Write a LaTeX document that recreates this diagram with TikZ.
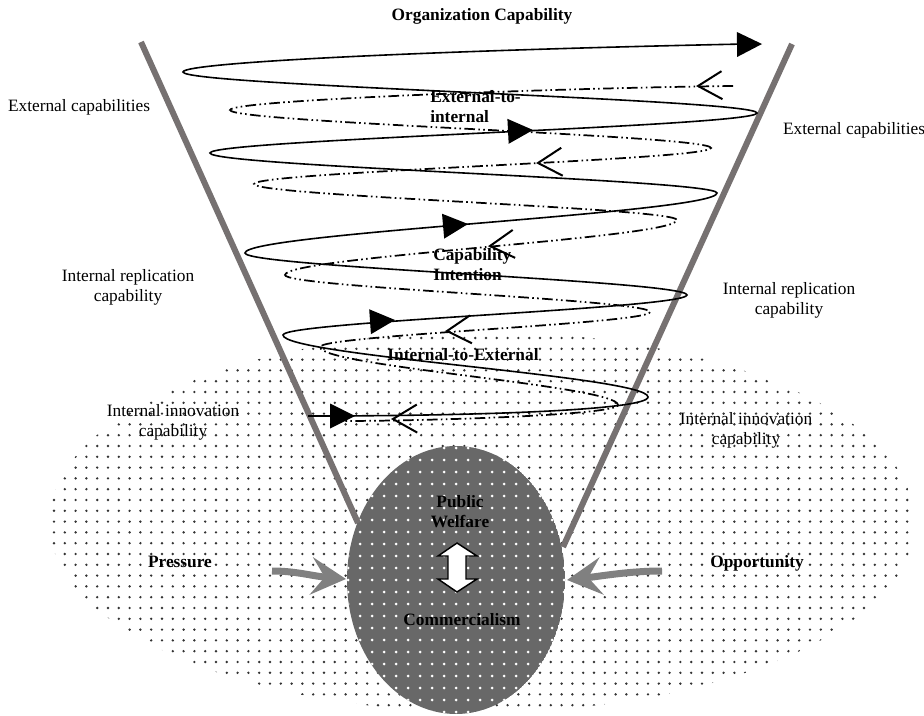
\documentclass[tikz,border=0pt]{standalone}
\usepackage{fontspec}
\setmainfont{Liberation Serif}
\usetikzlibrary{arrows.meta,patterns.meta}

\definecolor{wallgray}{RGB}{118,113,113}
\definecolor{pushgray}{RGB}{128,128,128}
\definecolor{coregray}{RGB}{104,104,104}

\tikzdeclarepattern{name=fielddots, type=uncolored,
  bounding box={(-1.2pt,-1.2pt) and (1.2pt,1.2pt)},
  tile size={(8.1pt,8.1pt)},
  code={\fill (0pt,0pt) circle (1pt);}}

\tikzset{
  wall/.style={draw=wallgray, line width=4.5pt},
  coil/.style={line width=1.2pt},
  backcoil/.style={line width=1.3pt, dash pattern={on 8pt off 2.5pt on 1.2pt off 2.5pt on 1.2pt off 2.5pt}},
  tipfill/.style={fill=black, draw opacity=0},
  tipopen/.style={line width=1.5pt},
  push/.style={draw=pushgray, line width=5.25pt, -{Stealth[length=26pt,width=28pt,inset=10pt]}},
  lbl/.style={inner sep=0pt, align=center, font=\fontsize{13}{15}\selectfont},
  blbl/.style={lbl, font=\fontsize{13}{15}\selectfont\bfseries},
}

\begin{document}
\begin{tikzpicture}[x=0.75pt,y=0.75pt,yscale=-1,xscale=1]
\useasboundingbox (0,0) rectangle (924,716);

%Shape: Ellipse [field]
\fill [pattern=fielddots, pattern color=black!80] (482,522) ellipse (433 and 190);
%Shape: Ellipse [core]
\begin{scope}
\clip (456,580) ellipse (109 and 134);
\fill [coregray] (456,580) ellipse (109 and 134);
\foreach \i in {0,...,19}
  \foreach \j in {0,...,23}
    \fill [white] (348+\i*12,448+\j*12) circle (1.5);
\end{scope}

%Straight Lines [walls]
\draw [wall] (141,42) -- (358,523);
\draw [wall] (792,44) -- (563,547);

%Curve Lines [pressure and opportunity]
\draw [push] (272,571) .. controls (296,571) and (312,576) .. (346,579);
\draw [push] (662,571) .. controls (630,571) and (602,576) .. (567,580);

%Shape: Up Down Arrow
\draw [fill=white, line width=1.1pt] (457,543) -- (477,556) -- (466,556) -- (466,579) -- (477,579) -- (457,592) -- (438,579) -- (448,579) -- (448,556) -- (438,556) -- cycle;

%Curve Lines [back coil]
\draw [backcoil] (733,86) .. controls (560,88) and (230,100) .. (230,110)
  .. controls (230,122.7) and (711,135.3) .. (711,148)
  .. controls (711,160) and (254,172) .. (254,184)
  .. controls (254,196) and (677,208) .. (677,220)
  .. controls (677,238.3) and (285,256.7) .. (285,275)
  .. controls (285,287.3) and (650,299.7) .. (650,312)
  .. controls (650,323.7) and (320,335.3) .. (320,347)
  .. controls (320,366.3) and (618,385.7) .. (618,405)
  .. controls (618,415) and (430,421) .. (340,421);
\draw [shift={(698,86)}, rotate=-2] [tipopen] (24,-14) -- (0,0) -- (24,14);
\draw [shift={(538,163)}, rotate=-3] [tipopen] (24,-14) -- (0,0) -- (24,14);
\draw [shift={(490,246)}, rotate=-5] [tipopen] (24,-14) -- (0,0) -- (24,14);
\draw [shift={(447,331)}, rotate=-4] [tipopen] (24,-14) -- (0,0) -- (24,14);
\draw [shift={(393,419)}, rotate=-1] [tipopen] (24,-14) -- (0,0) -- (24,14);

%Curve Lines [front coil]
\draw [coil] (308,416) .. controls (480,416) and (648,410) .. (648,397)
  .. controls (648,376.3) and (283,355.7) .. (283,335)
  .. controls (283,321.7) and (687,308.3) .. (687,295)
  .. controls (687,281) and (245,267) .. (245,253)
  .. controls (245,233) and (717,213) .. (717,193)
  .. controls (717,179.7) and (210,166.3) .. (210,153)
  .. controls (210,139.7) and (757,126.3) .. (757,113)
  .. controls (757,99.3) and (183,85.7) .. (183,72)
  .. controls (183,62) and (450,50) .. (745,44);
\draw [shift={(355,416)}, rotate=180] [tipfill] (25,-12.5) -- (0,0) -- (25,12.5) -- cycle;
\draw [shift={(395,320)}, rotate=176] [tipfill] (25,-12.5) -- (0,0) -- (25,12.5) -- cycle;
\draw [shift={(468,224)}, rotate=175] [tipfill] (25,-12.5) -- (0,0) -- (25,12.5) -- cycle;
\draw [shift={(533,130)}, rotate=177] [tipfill] (25,-12.5) -- (0,0) -- (25,12.5) -- cycle;
\draw [shift={(762,44)}, rotate=179] [tipfill] (25,-12.5) -- (0,0) -- (25,12.5) -- cycle;

% Text Node
\draw (482,16) node (orgcap) [blbl] {Organization Capability};
% Text Node
\draw (430,107) node (exttoint) [blbl, anchor=west, align=left] {External-to-\\internal};
% Text Node
\draw (433,265) node (capint) [blbl, anchor=west, align=left] {Capability\\Intention};
% Text Node
\draw (463,355) node (inttoext) [blbl] {Internal-to-External};
% Text Node
\draw (460,512) node (welfare) [blbl] {Public\\Welfare};
% Text Node
\draw (462,620) node (commerce) [blbl] {Commercialism};
% Text Node
\draw (180,562) node (pressure) [blbl] {Pressure};
% Text Node
\draw (757,563) node (opport) [blbl] {Opportunity};
% Text Node
\draw (79,107) node (extleft) [lbl] {External capabilities};
% Text Node
\draw (854,130) node (extright) [lbl] {External capabilities};
% Text Node
\draw (128,287) node (repleft) [lbl] {Internal replication\\capability};
% Text Node
\draw (789,300) node (repright) [lbl] {Internal replication\\capability};
% Text Node
\draw (173,422) node (innleft) [lbl] {Internal innovation\\capability};
% Text Node
\draw (746,430) node (innright) [lbl] {Internal innovation\\capability};

\end{tikzpicture}
\end{document}
